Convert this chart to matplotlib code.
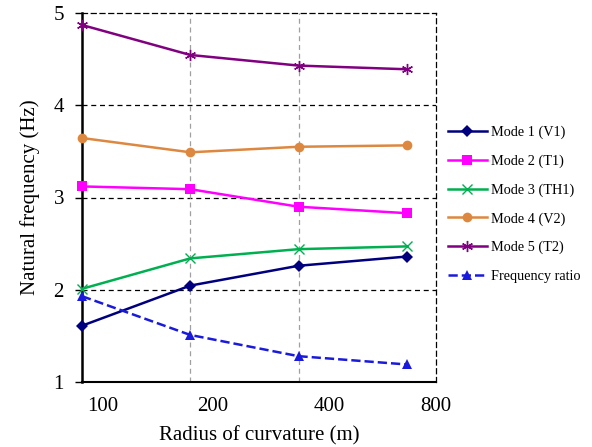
import matplotlib
matplotlib.use("Agg")
import matplotlib.pyplot as plt
import numpy as np

plt.rcParams['font.family'] = ['Liberation Serif', 'DejaVu Serif']

x_labels = ["100", "200", "400", "800"]
x_pos = [0, 1, 2, 3]
label_pos = [0.19, 1.21, 2.285, 3.27]

mode1 = [1.61, 2.045, 2.26, 2.36]
mode2 = [3.12, 3.09, 2.90, 2.83]
mode3 = [2.01, 2.34, 2.44, 2.47]
mode4 = [3.645, 3.49, 3.55, 3.565]
mode5 = [4.87, 4.545, 4.43, 4.39]
ratio = [1.93, 1.51, 1.28, 1.19]

series = [
    ("Mode 1 (V1)", mode1, "#00007F", "D", "-", 6),
    ("Mode 2 (T1)", mode2, "#FF00FF", "s", "-", 7),
    ("Mode 3 (TH1)", mode3, "#00B050", "x", "-", 7),
    ("Mode 4 (V2)", mode4, "#DD8840", "o", "-", 7),
    ("Mode 5 (T2)", mode5, "#800080", (6, 2, 0), "-", 8),
    ("Frequency ratio", ratio, "#1A1ADC", "^", "--", 7),
]

fig = plt.figure(figsize=(5.92, 4.47), dpi=100)
ax = fig.add_axes([82/592, 1-382/447, (436-82)/592, (382-13)/447])

for name, vals, col, mk, ls, ms in series:
    kw = dict(markeredgewidth=1.0) if mk in ("x", (6, 2, 0)) else dict(markeredgewidth=0)
    ax.plot(x_pos, vals, color=col, marker=mk, linestyle=ls, linewidth=1.8,
            markersize=ms, label=name, clip_on=False, zorder=3, **kw)

ax.set_xlim(0, 3)
ax.set_ylim(1, 5)
ax.set_yticks([1, 2, 3, 4, 5])
ax.tick_params(axis='y', direction='out', length=5, width=1, pad=8, labelsize=15)
ax.set_xticks(label_pos)
ax.set_xticklabels(x_labels)
ax.tick_params(axis='x', length=0, pad=11, labelsize=15)

# grid lines
for yv in [2, 3, 4]:
    ax.axhline(yv, color='black', linestyle=(0, (4, 3)), linewidth=0.9, zorder=1)
for xv in [1, 2]:
    ax.axvline(xv, color='#A0A0A0', linestyle=(0, (4, 3)), linewidth=0.9, zorder=1)

ax.spines['left'].set_linewidth(1.8)
ax.spines['bottom'].set_linewidth(1.5)
for s in ['top', 'right']:
    ax.spines[s].set_linestyle((0, (4, 3)))
    ax.spines[s].set_linewidth(0.9)

ax.set_xlabel("Radius of curvature (m)", fontsize=15, labelpad=7)
ax.set_ylabel("Natural frequency (Hz)", fontsize=15, labelpad=10)

leg = fig.legend(loc='upper left', bbox_to_anchor=(442/592, 1-120/447), frameon=False,
                 fontsize=10.3, handlelength=2.75, handletextpad=0.3, labelspacing=1.07,
                 borderaxespad=0)

fig.savefig("out.png", dpi=100)
